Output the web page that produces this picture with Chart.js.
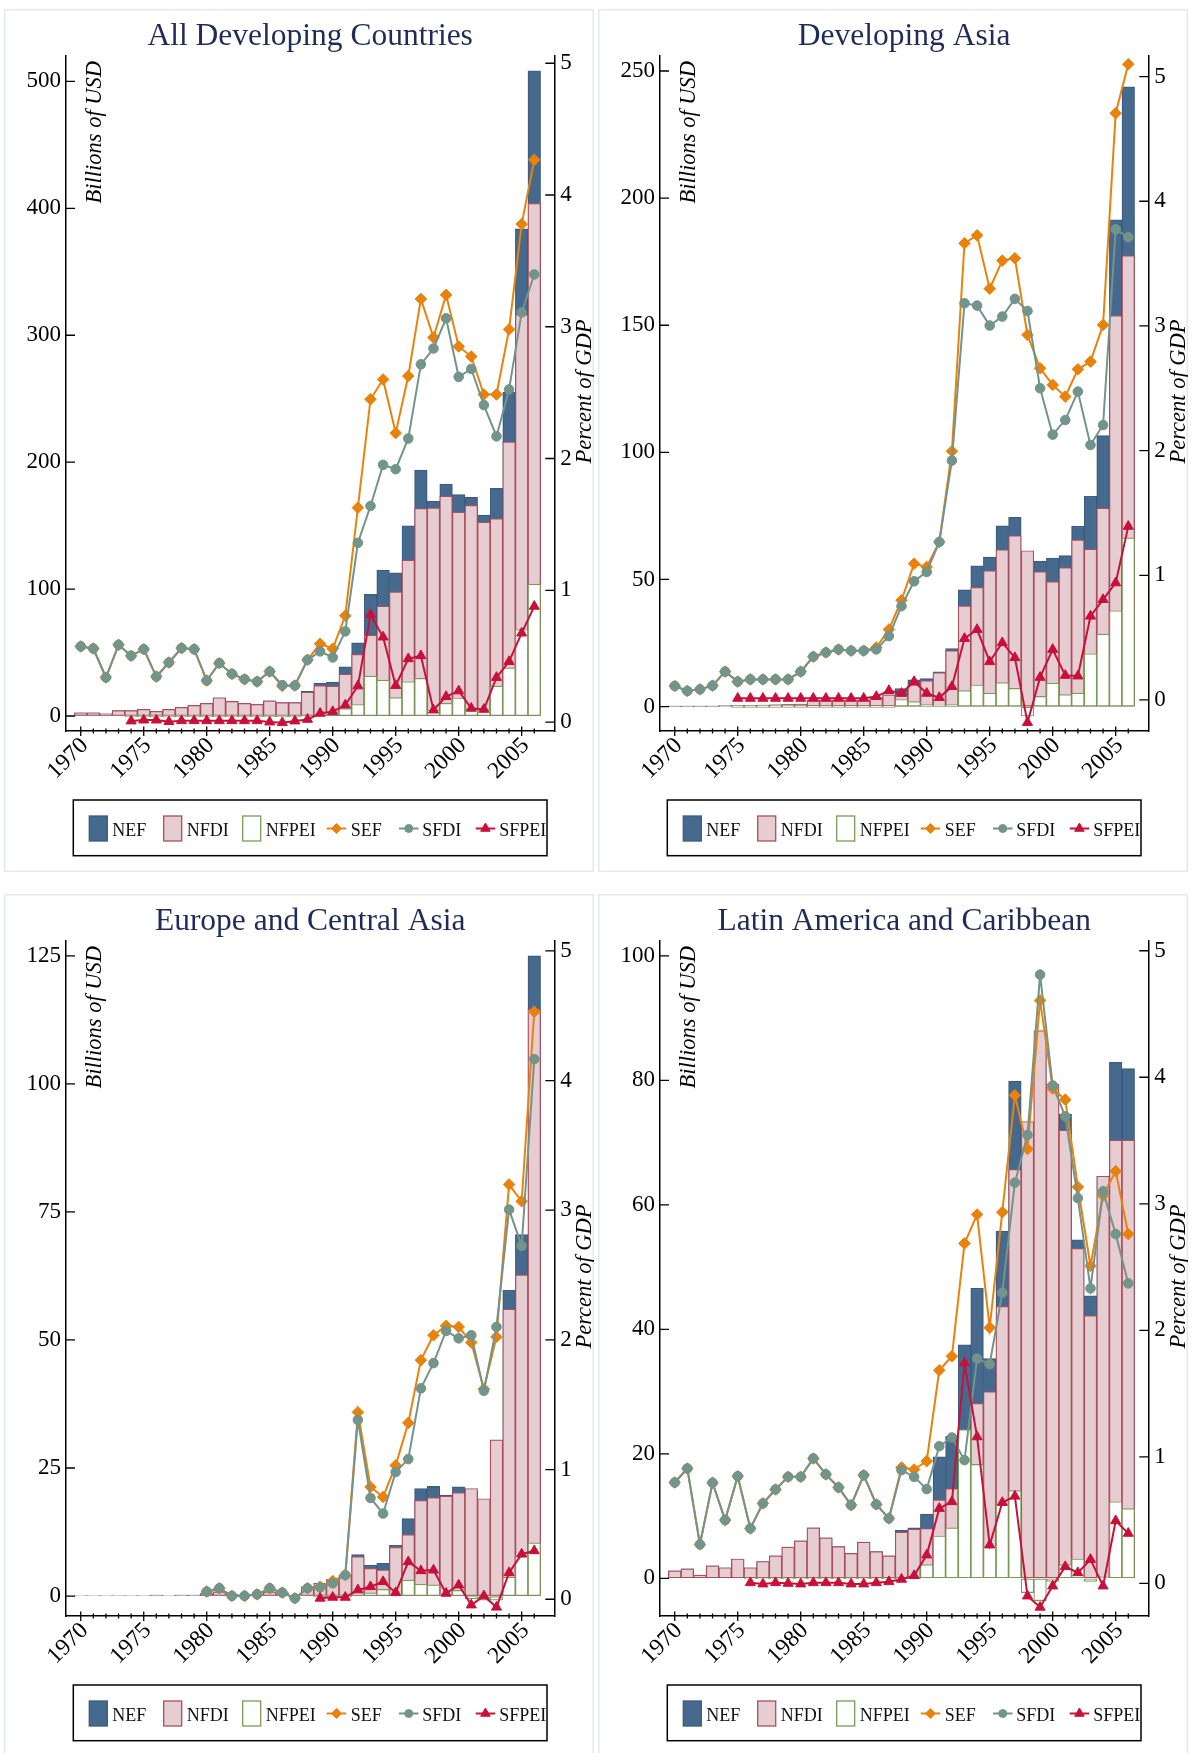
<!DOCTYPE html>
<html>
<head>
<meta charset="utf-8">
<script src="https://cdn.jsdelivr.net/npm/chart.js@4.4.1/dist/chart.umd.min.js"></script>
<style>
  html, body { margin: 0; padding: 0; background: #fff; }
  body { width: 1192px; height: 1753px; position: relative; overflow: hidden; }
  .card { position: absolute; width: 590px; height: 863px; background: #fff; box-shadow: inset 0 0 0 1.5px #e4eaec; }
  .card canvas { position: absolute; left: 0; top: 0; }
</style>
</head>
<body>
<div class="card" style="left:4px;top:9px"><canvas id="c1" width="590" height="863"></canvas></div>
<div class="card" style="left:598px;top:9px"><canvas id="c2" width="590" height="863"></canvas></div>
<div class="card" style="left:4px;top:894px"><canvas id="c3" width="590" height="863"></canvas></div>
<div class="card" style="left:598px;top:894px"><canvas id="c4" width="590" height="863"></canvas></div>
<script>
const years = [1970,1971,1972,1973,1974,1975,1976,1977,1978,1979,1980,1981,1982,1983,1984,1985,1986,1987,1988,1989,
  1990,1991,1992,1993,1994,1995,1996,1997,1998,1999,2000,2001,2002,2003,2004,2005,2006];

// All developing countries (billions of USD / percent of GDP)
const allNEF = [2.6,2.6,1.8,4.2,4.2,5.2,3.7,5.2,6.8,8.4,10,14.4,11.5,10,9.2,12,10.5,10.5,19.4,25.7,
  26.8,38.8,57.7,95.8,115,112.9,149.9,193.7,169.3,182.7,174.5,172.2,158.3,179.3,255,383.8,508.4];
const allNFDI = [2.6,2.6,1.8,4.2,4.2,5.2,3.7,5.2,6.8,8.4,10,14.4,11.5,10,9.2,12,10.5,10.5,18.9,23.9,
  23.6,33,48.6,63.8,86.6,97.9,122.8,163.5,164,173.2,160.6,166,152.8,155.6,216,316.2,403.9];
const allNFPEI = [null,null,null,null,0,0,0,0,0,0,0,0,0,0,0,0,0,0,0.5,1.8,
  3.2,5.8,9.1,31.5,28.3,14.5,27,29.7,4.7,10,14.2,5.5,5,23.6,38,68.2,104];
const allSEF = [0.574,0.558,0.338,0.586,0.503,0.553,0.345,0.452,0.561,0.553,0.315,0.447,0.365,0.325,0.307,0.383,0.274,0.277,0.472,0.594,
  0.556,0.807,1.627,2.45,2.6,2.193,2.626,3.211,2.919,3.242,2.85,2.774,2.486,2.486,2.98,3.779,4.267];
const allSFDI = [0.574,0.558,0.338,0.586,0.503,0.553,0.345,0.452,0.561,0.553,0.315,0.447,0.365,0.325,0.307,0.383,0.28,0.277,0.472,0.536,
  0.49,0.688,1.36,1.64,1.952,1.919,2.152,2.715,2.835,3.064,2.62,2.68,2.406,2.168,2.524,3.109,3.397];
const allSFPEI = [null,null,null,null,0.008,0.015,0.015,0.003,0.01,0.01,0.01,0.01,0.01,0.01,0.01,0,-0.005,0.008,0.02,0.066,
  0.079,0.129,0.274,0.815,0.645,0.277,0.48,0.503,0.091,0.193,0.236,0.104,0.096,0.338,0.459,0.675,0.878];

// Developing Asia
const asiaNEF = [0.1,0.1,0.1,0.1,0.4,0.5,0.5,0.6,0.7,0.8,1,2.5,2.5,2.5,2.5,2.6,3.5,4.6,7.1,10.5,
  11,13.7,22.8,45.9,55.4,58.8,71.1,74.4,57.6,57.1,58.4,59.4,70.9,82.7,106.6,191.5,243.8];
const asiaNFDI = [0.1,0.1,0.1,0.1,0.4,0.5,0.5,0.6,0.7,0.8,1,2.5,2.5,2.5,2.5,2.6,3.5,4.6,4.3,8.5,
  10.2,13.4,22,39.6,46.9,53.5,61.7,67.2,61.3,53.1,49.2,54.7,65.6,61.9,78.1,153.8,177.4];
const asiaNFPEI = [null,null,null,null,null,0,0,0,0,0,0,0,0,0,0,0,0,0,2.8,2,
  0.8,0.3,0.8,6.3,8.5,5.3,9.4,7.2,-3.7,4,9.2,4.7,5.3,20.8,28.5,37.7,66.4];
const asiaSEF = [0.112,0.072,0.085,0.115,0.227,0.147,0.165,0.165,0.165,0.165,0.227,0.347,0.381,0.405,0.395,0.395,0.421,0.565,0.8,1.093,
  1.067,1.267,1.995,3.663,3.727,3.299,3.524,3.543,2.928,2.66,2.527,2.433,2.652,2.714,3.008,4.706,5.099];
const asiaSFDI = [0.112,0.072,0.085,0.115,0.227,0.147,0.165,0.165,0.165,0.165,0.227,0.347,0.381,0.405,0.395,0.395,0.405,0.512,0.752,0.952,
  1.027,1.267,1.92,3.182,3.163,3.003,3.075,3.217,3.12,2.5,2.128,2.245,2.473,2.045,2.205,3.775,3.711];
const asiaSFPEI = [null,null,null,null,null,0.013,0.013,0.013,0.013,0.013,0.013,0.013,0.013,0.013,0.013,0.013,0.027,0.075,0.053,0.147,
  0.053,0.019,0.107,0.493,0.565,0.307,0.459,0.339,-0.181,0.181,0.405,0.197,0.192,0.672,0.805,0.939,1.392];

// Europe and Central Asia
const ecaNEF = [0.1,0.1,0.1,0.1,0.1,0.1,0.2,0.1,0.2,0.2,0.5,0.8,0.3,0.2,0.3,0.8,0.5,0.1,1.8,2.5,
  3.2,4.1,8.1,6,6.4,9.9,15.1,21,21.4,19.7,21.3,20.5,18.2,29.7,59.7,70.6,125];
const ecaNFDI = [0.1,0.1,0.1,0.1,0.1,0.1,0.2,0.1,0.2,0.2,0.5,0.8,0.3,0.2,0.3,0.8,0.5,0.1,1.8,2.5,
  3.2,4.1,7.7,5.4,5.1,9.5,12,18.7,19.2,19.5,20.2,21,19,30.5,56,62.7,114.6];
const ecaNFPEI = [null,null,null,null,null,null,null,null,null,null,null,null,null,null,null,null,null,null,null,0,
  0,0,0.4,0.6,1.3,0.4,3.1,2.3,2.2,0.2,1.1,-0.5,-0.8,-0.8,3.7,7.9,10.4];
const ecaSEF = [null,null,null,null,null,null,null,null,null,null,0.059,0.085,0.026,0.026,0.038,0.085,0.051,0.008,0.085,0.097,
  0.141,0.187,1.442,0.866,0.789,1.032,1.36,1.844,2.036,2.108,2.1,1.98,1.621,2.023,3.198,3.069,4.53];
const ecaSFDI = [null,null,null,null,null,null,null,null,null,null,0.059,0.085,0.026,0.026,0.038,0.085,0.051,0.008,0.085,0.092,
  0.123,0.187,1.383,0.781,0.661,0.981,1.081,1.626,1.821,2.069,2.012,2.036,1.608,2.1,3.005,2.725,4.165];
const ecaSFPEI = [null,null,null,null,null,null,null,null,null,null,null,null,null,null,null,null,null,null,null,0.008,
  0.015,0.015,0.072,0.097,0.136,0.051,0.289,0.22,0.225,0.046,0.11,-0.044,0.026,-0.061,0.205,0.348,0.374];

// Latin America and Caribbean
const lacNEF = [1.2,1.5,0.5,2,1.7,3.1,1.7,2.7,3.6,5,6,8.1,6.5,5.1,4,5.8,4.3,3.6,7.7,8.1,
  10.3,19.5,22.8,37.5,46.6,35.3,55.8,79.9,71.1,84.4,78.9,74.6,54.4,45.4,64.6,82.9,81.9];
const lacNFDI = [1.2,1.5,0.5,2,1.7,3.1,1.7,2.7,3.6,5,6,8.1,6.5,5.1,4,5.8,4.3,3.6,7.4,7.9,
  8,12.6,14.4,13.6,28.1,30,43.7,65.7,73.4,88,79.4,72,53,42.2,64.6,70.4,70.4];
const lacNFPEI = [null,null,null,null,null,null,0,0,0,0,0,0,0,0,0,0,0,0,0,0,
  2.2,6.8,8.1,23.9,18.3,5.1,11.9,14.1,-2.3,-3.6,-0.5,2.2,3.1,-0.5,0.2,12.3,11.2];
const lacSEF = [0.797,0.908,0.308,0.795,0.5,0.847,0.434,0.632,0.742,0.842,0.842,0.987,0.861,0.758,0.618,0.855,0.624,0.513,0.916,0.9,
  0.966,1.684,1.795,2.687,2.915,2.021,2.934,3.858,3.433,4.607,3.911,3.823,3.133,2.509,3.066,3.258,2.761];
const lacSFDI = [0.797,0.908,0.308,0.795,0.5,0.847,0.434,0.632,0.742,0.842,0.842,0.987,0.861,0.758,0.618,0.855,0.624,0.513,0.895,0.842,
  0.745,1.084,1.153,0.974,1.776,1.732,2.296,3.167,3.544,4.811,3.935,3.691,3.045,2.331,3.098,2.761,2.371];
const lacSFPEI = [null,null,null,null,null,null,0.005,-0.005,0.005,0,-0.005,0.005,0.005,0.005,-0.005,-0.005,0.005,0.013,0.032,0.061,
  0.224,0.592,0.645,1.742,1.158,0.303,0.639,0.689,-0.1,-0.189,-0.021,0.132,0.084,0.189,-0.021,0.495,0.395];

const serif = '"Liberation Serif", "Times New Roman", serif';
const C = {
  nef: '#466a8e', nefLine: '#3b5b7f',
  nfdi: '#e6cdd1', nfdiLine: '#ad4e5c',
  nfpei: '#ffffff', nfpeiLine: '#7a9a58',
  sef: '#e8820c', sfdi: '#72948b', sfpei: '#c8103c'
};

const legendItems = [
  {label: 'NEF', kind: 'bar', fill: C.nef, stroke: C.nefLine, sx: 16, tx: 39},
  {label: 'NFDI', kind: 'bar', fill: C.nfdi, stroke: C.nfdiLine, sx: 90.4, tx: 113.4},
  {label: 'NFPEI', kind: 'bar', fill: C.nfpei, stroke: C.nfpeiLine, sx: 169.4, tx: 192.4},
  {label: 'SEF', kind: 'line', color: C.sef, style: 'rectRot', r: 5, sx: 253.4, tx: 277.4},
  {label: 'SFDI', kind: 'line', color: C.sfdi, style: 'circle', r: 4, sx: 325.7, tx: 349},
  {label: 'SFPEI', kind: 'line', color: C.sfpei, style: 'triangle', r: 5.5, sx: 402.4, tx: 426}
];

const decor = {
  id: 'decor',
  afterDraw(chart) {
    const {ctx, chartArea: a, scales} = chart;
    const o = chart.options.plugins.decor;
    ctx.save();
    // panel title
    ctx.fillStyle = '#1f2c58';
    ctx.font = '31.5px ' + serif;
    ctx.textAlign = 'center';
    ctx.textBaseline = 'alphabetic';
    ctx.fillText(o.title, (a.left + a.right) / 2, 36);
    // axis titles
    ctx.fillStyle = '#000';
    ctx.font = 'italic 22.5px ' + serif;
    ctx.save();
    ctx.translate(a.left + 35, a.top + 5);
    ctx.rotate(-Math.PI / 2);
    ctx.textAlign = 'right';
    ctx.fillText('Billions of USD', 0, 0);
    ctx.restore();
    ctx.save();
    ctx.translate(chart.width - 3, (a.top + a.bottom) / 2 - 2);
    ctx.rotate(-Math.PI / 2);
    ctx.textAlign = 'center';
    ctx.fillText('Percent of GDP', 0, 0);
    ctx.restore();
    // inward tick marks on both y axes, crossing ticks on x
    ctx.strokeStyle = '#000';
    ctx.lineWidth = 1.3;
    ctx.beginPath();
    scales.y.ticks.forEach(t => {
      const y = scales.y.getPixelForValue(t.value);
      ctx.moveTo(a.left, y); ctx.lineTo(a.left + 9, y);
    });
    scales.y2.ticks.forEach(t => {
      const y = scales.y2.getPixelForValue(t.value);
      ctx.moveTo(a.right - 9, y); ctx.lineTo(a.right, y);
    });
    scales.x.ticks.forEach(t => {
      if (t.value < 1970 || t.value > 2006) return;
      const x = scales.x.getPixelForValue(t.value);
      const major = t.value % 5 === 0;
      ctx.moveTo(x, a.bottom - (major ? 4.5 : 2.5));
      ctx.lineTo(x, a.bottom + (major ? 5 : 2.5));
    });
    ctx.stroke();
    // legend box
    const bx = 69.3, by = 791, bw = 473.7, bh = 55.7;
    ctx.lineWidth = 1.5;
    ctx.strokeRect(bx, by, bw, bh);
    const cy = by + 28.5;
    ctx.font = '18px ' + serif;
    ctx.textAlign = 'left';
    ctx.textBaseline = 'alphabetic';
    legendItems.forEach(it => {
      const x = bx + it.sx;
      if (it.kind === 'bar') {
        ctx.fillStyle = it.fill;
        ctx.strokeStyle = it.stroke;
        ctx.lineWidth = 1.3;
        ctx.fillRect(x, cy - 12.5, 18, 25);
        ctx.strokeRect(x, cy - 12.5, 18, 25);
      } else {
        ctx.strokeStyle = it.color;
        ctx.fillStyle = it.color;
        ctx.lineWidth = 2;
        ctx.beginPath();
        ctx.moveTo(x, cy); ctx.lineTo(x + 19.5, cy);
        ctx.stroke();
        ctx.lineWidth = 1;
        Chart.helpers.drawPoint(ctx, {pointStyle: it.style, radius: it.r, borderWidth: 1, rotation: 0}, x + 9.75, cy);
      }
      ctx.fillStyle = '#111';
      ctx.fillText(it.label, bx + it.tx, cy + 7.2);
    });
    ctx.restore();
  }
};

function makeChart(id, title, nef, nfdi, nfpei, sef, sfdi, sfpei, yr, y2r) {
  const tickFont = {family: serif, size: 23};
  const bar = (label, data, bg, bd, order, minLen) => ({
    type: 'bar', label, data, backgroundColor: bg, borderColor: bd, borderWidth: 1.2,
    borderSkipped: false, grouped: false, barPercentage: 1, categoryPercentage: 1,
    minBarLength: minLen, yAxisID: 'y', order
  });
  const line = (label, data, color, style, r, order) => ({
    type: 'line', label, data, borderColor: color, backgroundColor: color, borderWidth: 2,
    pointStyle: style, pointRadius: r, pointBorderWidth: 1, pointBackgroundColor: color,
    pointBorderColor: color, tension: 0, yAxisID: 'y2', order
  });
  return new Chart(document.getElementById(id), {
    type: 'bar',
    data: {
      labels: years,
      datasets: [
        bar('NEF', nef, C.nef, C.nefLine, 6, 0),
        bar('NFDI', nfdi, C.nfdi, C.nfdiLine, 5, 0),
        bar('NFPEI', nfpei, C.nfpei, C.nfpeiLine, 4, 1.5),
        line('SEF', sef, C.sef, 'rectRot', 5.8, 3),
        line('SFDI', sfdi, C.sfdi, 'circle', 4.8, 2),
        line('SFPEI', sfpei, C.sfpei, 'triangle', 5.8, 1)
      ]
    },
    options: {
      responsive: false,
      animation: false,
      devicePixelRatio: 1,
      layout: {padding: {top: 47, left: 0, right: 0, bottom: 0}},
      plugins: {legend: {display: false}, tooltip: {enabled: false}, decor: {title}},
      scales: {
        x: {
          type: 'linear', min: 1968.83, max: 2007.59, offset: false,
          grid: {drawOnChartArea: false, drawTicks: false},
          border: {display: true, color: '#000', width: 1.5},
          ticks: {
            stepSize: 1, autoSkip: false, includeBounds: false, minRotation: 45, maxRotation: 45,
            padding: 1, labelOffset: 4, font: {family: serif, size: 23.5}, color: '#000',
            callback: v => (v % 5 === 0 ? String(v) : '')
          },
          afterFit: s => { s.height = 141; }
        },
        y: {
          position: 'left', min: yr[0], max: yr[1],
          grid: {drawOnChartArea: false, drawTicks: false},
          border: {display: true, color: '#000', width: 1.5},
          ticks: {stepSize: yr[2], includeBounds: false, padding: 5, font: tickFont, color: '#000'},
          afterFit: s => { s.width = 62; }
        },
        y2: {
          position: 'right', min: y2r[0], max: y2r[1],
          grid: {drawOnChartArea: false, drawTicks: false},
          border: {display: true, color: '#000', width: 1.5},
          ticks: {stepSize: 1, includeBounds: false, padding: 6, font: tickFont, color: '#000'},
          afterFit: s => { s.width = 39.7; }
        }
      }
    },
    plugins: [decor]
  });
}

makeChart('c1', 'All Developing Countries', allNEF, allNFDI, allNFPEI, allSEF, allSFDI, allSFPEI,
  [-11.8, 520, 100], [-0.068, 5.055]);
makeChart('c2', 'Developing Asia', asiaNEF, asiaNFDI, asiaNFPEI, asiaSEF, asiaSFDI, asiaSFPEI,
  [-9.6, 255.9, 50], [-0.249, 5.165]);
makeChart('c3', 'Europe and Central Asia', ecaNEF, ecaNFDI, ecaNFPEI, ecaSEF, ecaSFDI, ecaSFPEI,
  [-3.9, 127.9, 25], [-0.129, 5.076]);
makeChart('c4', 'Latin America and Caribbean', lacNEF, lacNFDI, lacNFPEI, lacSEF, lacSFDI, lacSFPEI,
  [-6.06, 102.4, 20], [-0.258, 5.077]);
</script>
</body>
</html>
